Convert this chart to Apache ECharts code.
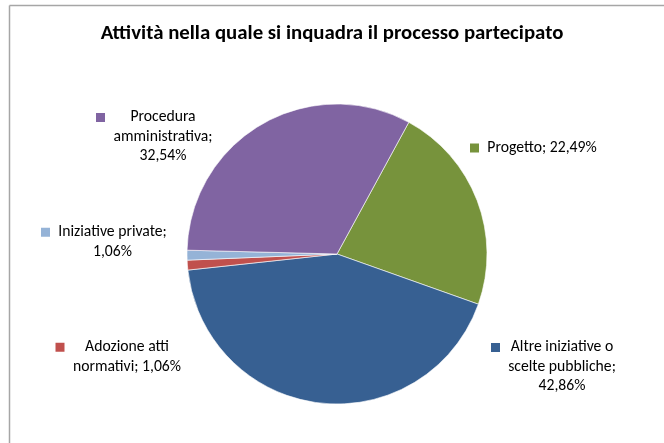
<!DOCTYPE html>
<html><head><meta charset="utf-8">
<script src="https://cdn.jsdelivr.net/npm/echarts@6/dist/echarts.min.js"></script>
<style>html,body{margin:0;padding:0;background:#fff}#c{width:664px;height:443px}</style>
</head><body><div id="c"></div>
<script>
const categories = ["Progetto", "Altre iniziative o scelte pubbliche", "Adozione atti normativi", "Iniziative private", "Procedura amministrativa"];
const values = [22.49, 42.86, 1.06, 1.06, 32.54];
const labelLines = [
  ["Progetto; 22,49%"],
  ["Altre iniziative o", "scelte pubbliche;", "42,86%"],
  ["Adozione atti", "normativi; 1,06%"],
  ["Iniziative private;", "1,06%"],
  ["Procedura", "amministrativa;", "32,54%"]
];
const colors = ["#77933C", "#376092", "#C0504D", "#95B3D7", "#8064A2"];
const labelPos = [[534,148],[554,367],[119,357],[104.5,242],[155,137]];

const font = "Calibri, Carlito, 'Open Sans', sans-serif";
const fs = 15.7;
const cv = document.createElement('canvas').getContext('2d');
cv.font = fs + 'px ' + font;
const chart = echarts.init(document.getElementById('c'), null, {renderer:'canvas'});
const data = categories.map((n,i)=>{
  const W = Math.ceil(Math.max(...labelLines[i].map(s=>cv.measureText(s).width))) + 2;
  return {
    name:n, value:values[i],
    itemStyle:{color:colors[i]},
    label:{
      overflow:'none',
      formatter: ()=> labelLines[i].map((s,k)=> (k===0?'{sq|}{g|}':'{sp|}') + '{t|' + s + '}').join('\n'),
      rich:{
        sq:{width:9,height:9,backgroundColor:colors[i]},
        g:{width:7},
        sp:{width:16},
        t:{width:W,align:'center',fontFamily:font,fontSize:fs,color:'#000',lineHeight:19.5}
      }
    }
  };
});
chart.setOption({
  animation:false,
  backgroundColor:'#fff',
  title:{ text:'Attività nella quale si inquadra il processo partecipato', left:'center', top:18,
    textStyle:{ fontFamily:font, fontSize:20.8, fontWeight:'bold', color:'#000' } },
  graphic:[
    { type:'line', shape:{x1:9.5,y1:5.5,x2:664,y2:5.5}, style:{stroke:'#a6a6a6',lineWidth:1.5} },
    { type:'line', shape:{x1:9.5,y1:5.5,x2:9.5,y2:443}, style:{stroke:'#a6a6a6',lineWidth:1.5} }
  ],
  series:[{
    type:'pie', center:[337,254], radius:150, startAngle:61.4, clockwise:true,
    data:data,
    itemStyle:{borderColor:'#fff',borderWidth:0.6},
    label:{ show:true, position:'outside', overflow:'none', color:'#000', fontFamily:font, fontSize:fs, lineHeight:19.5, align:'center' },
    labelLine:{show:false},
    labelLayout:(p)=>({ x:labelPos[p.dataIndex][0], y:labelPos[p.dataIndex][1], align:'center', verticalAlign:'middle', hideOverlap:false }),
    emphasis:{disabled:true}
  }]
});
</script></body></html>
